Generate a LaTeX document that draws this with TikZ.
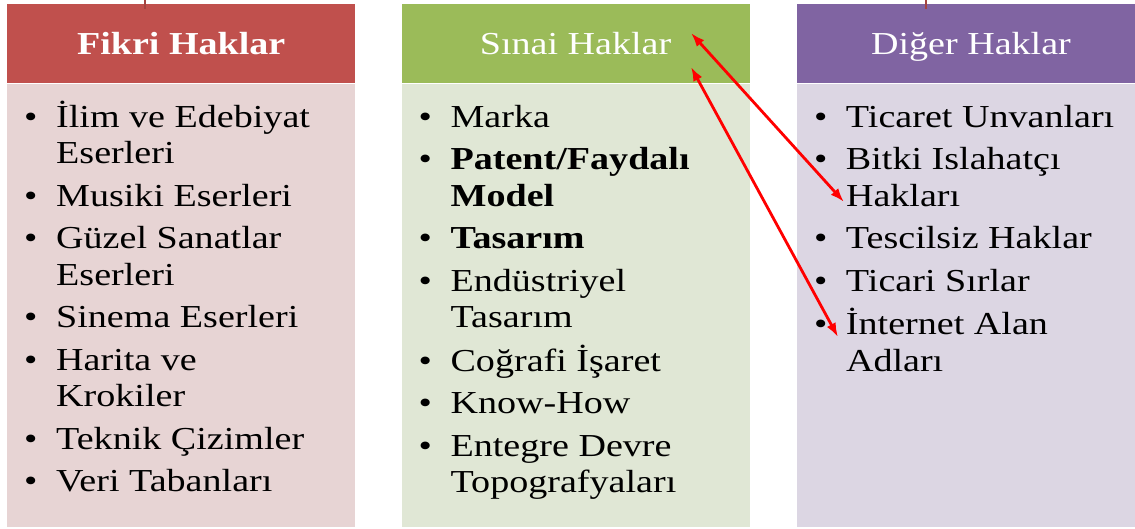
\documentclass[tikz,border=0pt]{standalone}
\usepackage{fontspec}
\setmainfont{Liberation Serif}[FakeStretch=1.19]
\usetikzlibrary{positioning,arrows.meta}

\definecolor{fikriHead}{HTML}{C0504D}
\definecolor{fikriBody}{RGB}{231,212,212}
\definecolor{sinaiHead}{HTML}{9BBB59}
\definecolor{sinaiBody}{RGB}{224,231,213}
\definecolor{digerHead}{HTML}{8064A2}
\definecolor{digerBody}{RGB}{220,214,227}

% bullet of a list line
\newcommand{\mad}{\makebox[32pt][l]{\textbullet}}

\begin{document}
\begin{tikzpicture}[
    x=1pt, y=1pt,
    font=\fontsize{32}{36.5}\selectfont,
    % Box styles:
    header/.style={rectangle, inner sep=0pt, text=white, minimum width=348pt,
                   minimum height=79pt, text height=22pt, text depth=0pt},
    body/.style={rectangle, inner sep=0pt, minimum width=348pt, minimum height=443pt},
    list/.style={inner sep=0pt, anchor=base west},
    % Line styles:
    line/.style={{Latex[length=14pt,width=10pt]}-{Latex[length=14pt,width=10pt]},
                 red, line width=2.8pt},
    stub/.style={draw=fikriHead!85!black, line width=2pt},
]
\useasboundingbox (0,0) rectangle (1135,529);

% --- HEADERS ---
\node[header, fill=fikriHead, anchor=north west] (fikri) at (7,525) {\bfseries Fikri Haklar};
\node[header, fill=sinaiHead, right=46pt of fikri] (sinai) {Sınai Haklar};
\node[header, fill=digerHead, right=47pt of sinai] (diger) {Diğer Haklar};

% --- BODIES ---
\node[body, fill=fikriBody, below=0pt of fikri] (fikriK) {};
\node[body, fill=sinaiBody, below=0pt of sinai] (sinaiK) {};
\node[body, fill=digerBody, below=0pt of diger] (digerK) {};

% --- LISTS ---
\node[list] (fikriL) at ([xshift=17pt, yshift=-44pt]fikriK.north west) {%
  \begin{tabular}[t]{@{}l@{}l@{}}
  \mad & İlim ve Edebiyat\\ & Eserleri\\[6pt]
  \mad & Musiki Eserleri\\[6pt]
  \mad & Güzel Sanatlar\\ & Eserleri\\[6pt]
  \mad & Sinema Eserleri\\[6pt]
  \mad & Harita ve\\ & Krokiler\\[6pt]
  \mad & Teknik Çizimler\\[6pt]
  \mad & Veri Tabanları
  \end{tabular}};
\node[list] (sinaiL) at ([xshift=17pt, yshift=-44pt]sinaiK.north west) {%
  \begin{tabular}[t]{@{}l@{}l@{}}
  \mad & Marka\\[6pt]
  \mad & \textbf{Patent/Faydalı}\\ & \textbf{Model}\\[6pt]
  \mad & \textbf{Tasarım}\\[6pt]
  \mad & Endüstriyel\\ & Tasarım\\[6pt]
  \mad & Coğrafi İşaret\\[6pt]
  \mad & Know-How\\[6pt]
  \mad & Entegre Devre\\ & Topografyaları
  \end{tabular}};
\node[list] (digerL) at ([xshift=17pt, yshift=-44pt]digerK.north west) {%
  \begin{tabular}[t]{@{}l@{}l@{}}
  \mad & Ticaret Unvanları\\[6pt]
  \mad & Bitki Islahatçı\\ & Hakları\\[6pt]
  \mad & Tescilsiz Haklar\\[6pt]
  \mad & Ticari Sırlar\\[6pt]
  \mad & İnternet Alan\\ & Adları
  \end{tabular}};

% --- ARROWS ---
\coordinate (sinaiUst) at (691,496);
\coordinate (sinaiAlt) at (691,462);
\coordinate (bitki)    at (844,327);
\coordinate (internet) at (838,192);
\draw[line] (sinaiUst) -- (bitki);
\draw[line] (sinaiAlt) -- (internet);

% stubs of the connectors from above
\draw[stub] ([xshift=-36pt, yshift=-5pt]fikri.north) -- ++(0,10);
\draw[stub] ([xshift=-45pt, yshift=-5pt]diger.north) -- ++(0,10);

\end{tikzpicture}
\end{document}
